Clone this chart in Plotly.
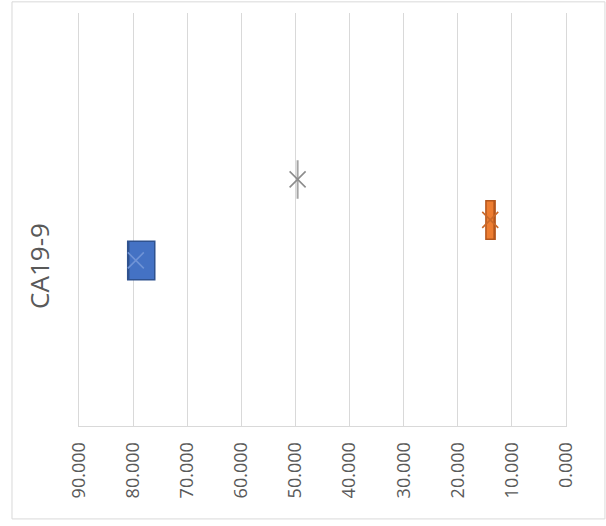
import plotly.graph_objects as go

# ---- data ----
category = "CA19-9"
series_names = ["Series A", "Series B", "Series C"]
series_colors = ["#4472C4", "#ED7D31", "#A5A5A5"]
series_edges = ["#2F528F", "#B4561C", "#A5A5A5"]
mean_colors = ["#6F93D6", "#C9692A", "#8C8C8C"]
q1 = [76.0, 13.1, 49.6]
median = [81.0, 13.1, 49.6]
q3 = [81.0, 14.8, 49.6]
lower = [76.0, 13.1, 49.6]
upper = [81.0, 14.8, 49.6]
means = [79.5, 14.0, 49.6]
x_ticks = [90, 80, 70, 60, 50, 40, 30, 20, 10, 0]
x_tick_labels = ["90.000", "80.000", "70.000", "60.000", "50.000",
                 "40.000", "30.000", "20.000", "10.000", "0.000"]

positions = list(range(len(series_names)))

fig = go.Figure()
for i, name in enumerate(series_names):
    fig.add_trace(go.Box(
        name=name,
        orientation="h",
        y=[positions[i]],
        q1=[q1[i]], median=[median[i]], q3=[q3[i]],
        lowerfence=[lower[i]], upperfence=[upper[i]],
        width=0.95,
        fillcolor=series_colors[i],
        line=dict(color=series_edges[i], width=1.5 if i < 2 else 2),
        whiskerwidth=0,
        showlegend=False,
        hoverinfo="skip",
    ))
    fig.add_trace(go.Scatter(
        x=[means[i]], y=[positions[i]],
        mode="markers",
        marker=dict(symbol="x-thin-open", size=16, color=mean_colors[i],
                    line=dict(color=mean_colors[i], width=1.6)),
        showlegend=False,
        hoverinfo="skip",
    ))

fig.update_layout(
    width=606, height=526,
    margin=dict(l=79, r=40, t=13, b=100),
    paper_bgcolor="white", plot_bgcolor="white",
    font=dict(family="Open Sans", color="#595959"),
    shapes=[dict(type="rect", xref="paper", yref="paper",
                 x0=-0.1376, x1=1.08, y0=-0.225, y1=1.027,
                 line=dict(color="#D9D9D9", width=1), layer="below")],
)
fig.update_xaxes(
    range=[90, 0], tickvals=x_ticks, ticktext=x_tick_labels,
    tickangle=-90, tickfont=dict(size=18, color="#595959"),
    showgrid=True, gridcolor="#D9D9D9", gridwidth=1,
    showline=True, linecolor="#D9D9D9", linewidth=1,
    zeroline=False, ticks="", ticklabelstandoff=8,
)
fig.update_yaxes(
    range=[-4.09, 6.11], tickvals=[1], ticktext=[category],
    tickangle=-90, tickfont=dict(size=26, color="#595959"),
    showgrid=False, zeroline=False,
    showline=True, mirror=True, linecolor="#D9D9D9", linewidth=1,
    ticks="", ticklabelshift=50, ticklabelstandoff=19,
)

fig.write_html("out.html")
